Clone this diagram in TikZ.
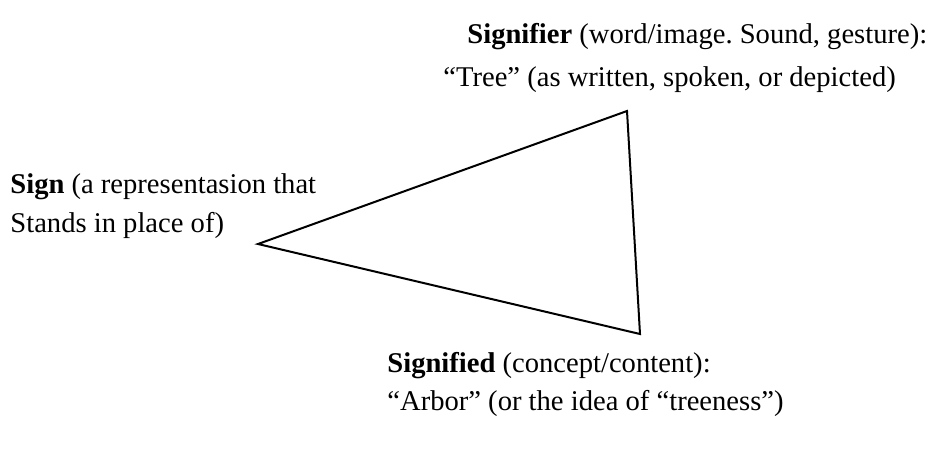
\documentclass[tikz,border=0pt]{standalone}
\usepackage{fontspec}
\setmainfont{Liberation Serif}
\usetikzlibrary{positioning}
\frenchspacing

\begin{document}
\begin{tikzpicture}[
      x=0.5pt, y=-0.5pt,
      lbl/.style={anchor=base west, inner sep=0pt, font=\fontsize{14.3}{17}\selectfont},
      edge/.style={line width=1pt, line join=miter}
    ]
      \useasboundingbox (0,0) rectangle (942,457);
      % the three corners of the triangle
      \coordinate (sign) at (258,244);
      \coordinate (signifier) at (627,111);
      \coordinate (signified) at (640,334);

      \node[lbl] (signtop) at (10,193) {\textbf{Sign} (a representasion that};
      \node[lbl] (signbot) at (10,232) {Stands in place of)};
      \node[lbl] (sfrtop) at (467,43) {\textbf{Signifier} (word/image. Sound, gesture):};
      \node[lbl] (sfrbot) at (443,86) {``Tree'' (as written, spoken, or depicted)};
      \node[lbl] (sfdtop) at (387,372) {\textbf{Signified} (concept/content):};
      \node[lbl] (sfdbot) at (387,410) {``Arbor'' (or the idea of ``treeness'')};

      \draw[edge] (sign) -- (signifier) -- (signified) -- cycle;
    \end{tikzpicture}
\end{document}
